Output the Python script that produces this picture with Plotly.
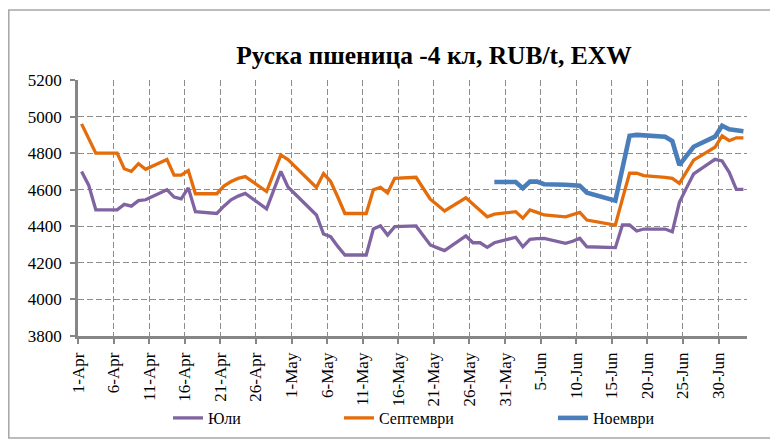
import plotly.graph_objects as go

# ---------------- data ----------------
dates = ["2015-04-01","2015-04-02","2015-04-03","2015-04-06","2015-04-07","2015-04-08","2015-04-09","2015-04-10",
         "2015-04-13","2015-04-14","2015-04-15","2015-04-16","2015-04-17","2015-04-20","2015-04-21","2015-04-22",
         "2015-04-23","2015-04-24","2015-04-27","2015-04-28","2015-04-29","2015-04-30",
         "2015-05-04","2015-05-05","2015-05-06","2015-05-07","2015-05-08","2015-05-11","2015-05-12","2015-05-13",
         "2015-05-14","2015-05-15","2015-05-18","2015-05-19","2015-05-20","2015-05-21","2015-05-22","2015-05-25",
         "2015-05-26","2015-05-27","2015-05-28","2015-05-29",
         "2015-06-01","2015-06-02","2015-06-03","2015-06-04","2015-06-05","2015-06-08","2015-06-09","2015-06-10",
         "2015-06-11","2015-06-15","2015-06-16","2015-06-17","2015-06-18","2015-06-19","2015-06-22","2015-06-23",
         "2015-06-24","2015-06-25","2015-06-26","2015-06-29","2015-06-30",
         "2015-07-01","2015-07-02","2015-07-03"]

juli = [4700, 4625, 4490, 4490, 4520, 4510, 4540, 4545, 4600, 4560, 4550, 4610, 4480, 4470, 4510, 4545,
        4565, 4580, 4495, 4597, 4700, 4615,
        4462, 4358, 4343, 4290, 4243, 4243, 4385, 4403, 4352, 4398, 4402, 4350, 4298, 4282, 4267, 4347,
        4310, 4310, 4285, 4310,
        4340, 4288, 4329, 4332, 4334, 4307, 4318, 4334, 4288, 4283, 4407, 4407, 4374, 4385, 4385, 4370,
        4531, 4610, 4686, 4766, 4757,
        4695, 4602, 4602]

septemvri = [4960, 4880, 4800, 4800, 4715, 4700, 4742, 4712, 4765, 4680, 4680, 4705, 4578, 4578, 4620, 4645,
             4662, 4672, 4590, 4690, 4790, 4765,
             4612, 4688, 4645, 4560, 4470, 4470, 4600, 4613, 4582, 4662, 4668, 4608, 4548, 4516, 4484, 4556,
             4521, 4487, 4452, 4466,
             4480, 4444, 4489, 4476, 4462, 4452, 4464, 4476, 4434, 4407, 4550, 4690, 4690, 4677, 4668, 4662,
             4635, 4700, 4762, 4832, 4895,
             4868, 4884, 4884]

dates_noemvri = ["2015-05-29","2015-06-01","2015-06-02","2015-06-03","2015-06-04","2015-06-05","2015-06-08",
                 "2015-06-09","2015-06-10","2015-06-11","2015-06-15","2015-06-16","2015-06-17","2015-06-18",
                 "2015-06-19","2015-06-22","2015-06-23","2015-06-24","2015-06-25","2015-06-26","2015-06-29",
                 "2015-06-30","2015-07-01","2015-07-02","2015-07-03"]
noemvri = [4642, 4642, 4608, 4644, 4644, 4630, 4627, 4626, 4622, 4584, 4540, 4718, 4895, 4900, 4896, 4890,
           4866, 4735, 4785, 4835, 4890, 4950, 4930, 4922, 4920]

series_names = ["Юли", "Септември", "Ноември"]
title_text = "Руска пшеница -4 кл, RUB/t, EXW"

# ---------------- figure ----------------
OFF = 8                      # page body margin offset
W, H = 778 - OFF, 441 - OFF
L, R, T, B = 78 - OFF, 31, 80 - OFF, 105
PW, PH = W - L - R, H - T - B
FONT = "Liberation Serif, Times New Roman, serif"

# helpers converting page pixel positions into paper coordinates
def px_x(p):
    return (p - OFF - L) / PW

def px_y(p):
    return (H - B - (p - OFF)) / PH

DAY = 86400000

fig = go.Figure()
fig.add_trace(go.Scatter(x=dates, y=juli, name=series_names[0], mode="lines",
                         line=dict(color="#8064A2", width=3.3),
                         xperiod=DAY, xperiodalignment="middle", legend="legend"))
fig.add_trace(go.Scatter(x=dates, y=septemvri, name=series_names[1], mode="lines",
                         line=dict(color="#E46C0A", width=3.3),
                         xperiod=DAY, xperiodalignment="middle", legend="legend2"))
fig.add_trace(go.Scatter(x=dates_noemvri, y=noemvri, name=series_names[2], mode="lines",
                         line=dict(color="#4A7EBB", width=4.6),
                         xperiod=DAY, xperiodalignment="middle", legend="legend3"))

grid = dict(showgrid=True, gridcolor="#8c8c8c", gridwidth=1.4, griddash="6px,3px")

fig.update_layout(
    template="none",
    width=W, height=H,
    margin=dict(l=L, r=R, t=T, b=B, pad=0, autoexpand=False),
    paper_bgcolor="white", plot_bgcolor="white",
    font=dict(family=FONT, color="black"),
    title=dict(text="<b>" + title_text + "</b>", font=dict(family=FONT, size=25.5, color="black"),
               x=(434 - OFF) / W, xanchor="center", xref="container",
               y=1 - (55 - OFF) / H, yanchor="middle", yref="container"),
    xaxis=dict(type="date", range=["2015-04-01", "2015-07-04"], automargin=False,
               tick0="2015-04-01", dtick=5 * DAY, tickformat="%-d-%b", tickangle=-90,
               tickfont=dict(family=FONT, size=17, color="black"), ticklabelstandoff=2,
               showline=True, linecolor="#868686", linewidth=2.6,
               ticks="outside", ticklen=5, tickcolor="#868686", tickwidth=1.5,
               zeroline=False, **grid),
    yaxis=dict(range=[3800, 5200], dtick=200, tickformat="d", automargin=False,
               tickfont=dict(family=FONT, size=17, color="black"), ticklabelstandoff=5,
               showline=True, linecolor="#868686", linewidth=2.6,
               ticks="outside", ticklen=5, tickcolor="#868686", tickwidth=1.5,
               zeroline=False, **grid),
    showlegend=True,
)

leg_common = dict(orientation="h", yanchor="middle", xanchor="left", bgcolor="rgba(0,0,0,0)",
                  font=dict(family=FONT, size=16, color="black"), itemwidth=30)
fig.update_layout(
    legend=dict(x=px_x(168), y=px_y(418), **leg_common),
    legend2=dict(x=px_x(339), y=px_y(418), **leg_common),
    legend3=dict(x=px_x(553), y=px_y(418), **leg_common),
)

# chart border
fig.add_shape(type="rect", xref="paper", yref="paper",
              x0=px_x(8.8), x1=px_x(771), y0=px_y(438), y1=px_y(10),
              line=dict(color="#a6a6a6", width=1.5), fillcolor="rgba(0,0,0,0)", layer="below")

fig.write_html("out.html")
